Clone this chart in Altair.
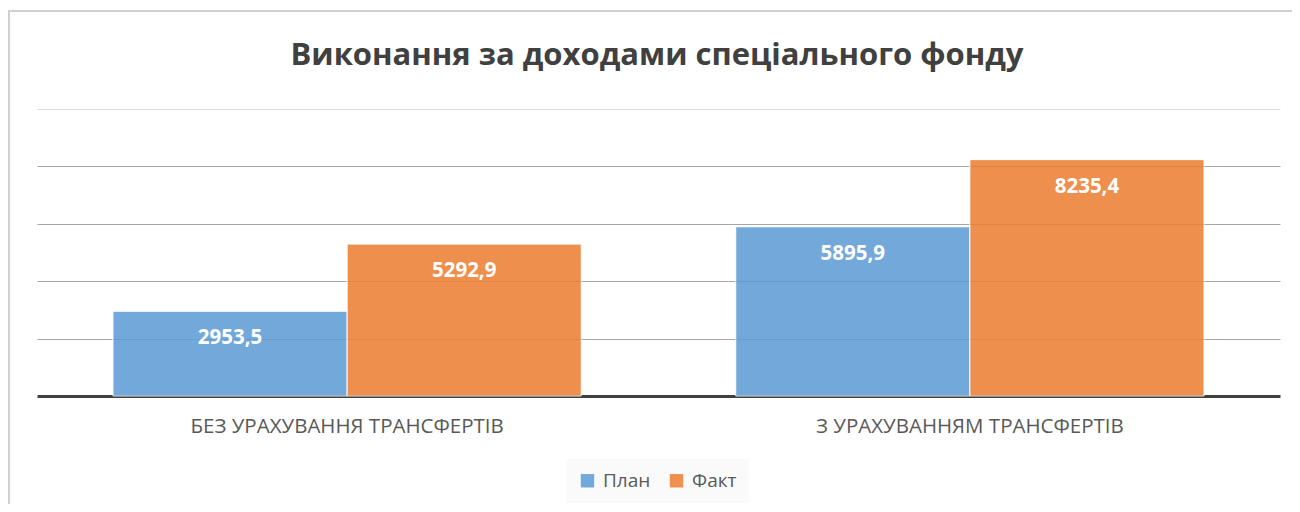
import altair as alt
import pandas as pd

title_text = "Виконання за доходами спеціального фонду"
categories = ["БЕЗ УРАХУВАННЯ ТРАНСФЕРТІВ", "З УРАХУВАННЯМ ТРАНСФЕРТІВ"]
series = ["План", "Факт"]
plan_values = [2953.5, 5895.9]
fact_values = [5292.9, 8235.4]
colors = ["#5B9BD5", "#ED7D31"]

rows = []
for i, c in enumerate(categories):
    rows.append({"cat": c, "series": "План", "value": plan_values[i]})
    rows.append({"cat": c, "series": "Факт", "value": fact_values[i]})
df = pd.DataFrame(rows)

FONT = "Open Sans"

x = alt.X("cat:N", sort=categories, title=None,
          scale=alt.Scale(paddingInner=0.248, paddingOuter=0.122),
          axis=alt.Axis(labelAngle=0, labelFontSize=20.5, labelColor="#595959",
                        labelFont=FONT, ticks=False, domainColor="#404040",
                        domainWidth=3, labelPadding=20, grid=False, labelLimit=0))
xo = alt.XOffset("series:N", sort=series, scale=alt.Scale(paddingInner=0))
y = alt.Y("value:Q", title=None,
          scale=alt.Scale(domain=[0, 10000], nice=False),
          axis=alt.Axis(values=[2000, 4000, 6000, 8000, 10000], labels=False,
                        ticks=False, domain=False, grid=True,
                        gridColor={"condition": {"test": "datum.value === 10000", "value": "#dedede"},
                                   "value": "#a6a6a6"},
                        gridWidth=1.2))

bars = alt.Chart(df).mark_bar(opacity=0.86, stroke="white", strokeWidth=1).encode(
    x=x, xOffset=xo, y=y,
    color=alt.Color("series:N", sort=series,
                    scale=alt.Scale(domain=series, range=colors),
                    legend=alt.Legend(title=None, orient="none", direction="horizontal",
                                      legendX=529, legendY=350, symbolType="square",
                                      symbolSize=180, symbolOpacity=0.86, symbolStrokeWidth=0,
                                      labelFontSize=19, labelColor="#595959", labelFont=FONT,
                                      fillColor="#fafafa", padding=12, columnPadding=16,
                                      labelOffset=6)),
)

labels = alt.Chart(df).transform_calculate(
    lbl="replace(format(datum.value, '.1f'), '.', ',')"
).mark_text(color="white", fontWeight="bold", fontSize=20.5, font=FONT,
            baseline="middle", dy=27).encode(
    x=alt.X("cat:N", sort=categories), xOffset=alt.XOffset("series:N", sort=series),
    y=alt.Y("value:Q"), text="lbl:N")

title = alt.Chart(pd.DataFrame({"t": [title_text]})).mark_text(
    fontSize=31, fontWeight="bold", font=FONT, color="#404040",
    align="center", baseline="alphabetic").encode(
    x=alt.value(620), y=alt.value(-44), text="t:N")

frame = alt.Chart(pd.DataFrame({"a": [0]})).mark_rect(
    fill=None, stroke="#d0d0d0", strokeWidth=2).encode(
    x=alt.value(-28), x2=alt.value(1256), y=alt.value(-98), y2=alt.value(420))

chart = alt.layer(bars, labels, title, frame).properties(
    width=1243, height=287,
    padding={"left": 29, "top": 101, "right": 12, "bottom": 108},
    autosize=alt.AutoSizeParams(type="none"),
).configure(background="white").configure_view(stroke=None)

chart.save("out.html", embed_options={"renderer": "svg", "actions": False})
